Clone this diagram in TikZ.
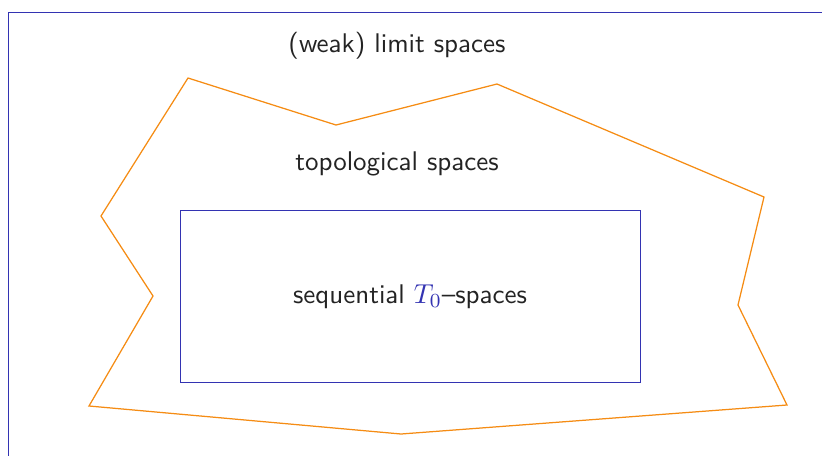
\documentclass[tikz,border=0pt]{standalone}
\usepackage{tikz}
\usepackage{xcolor}
\usepackage{amsmath}
\usetikzlibrary{positioning,calc}
\definecolor{frameBlue}{RGB}{51,51,178}
\definecolor{topoOrange}{RGB}{245,140,20}
\definecolor{textGray}{RGB}{35,35,35}
\tikzset{
  frame/.style={draw=frameBlue, line width=0.35pt},
  region/.style={draw=topoOrange, line width=0.5pt, line join=miter},
  label/.style={text=textGray, font=\sffamily\fontsize{10.8}{13}\selectfont, inner sep=0pt}
}
\newcommand{\Tnull}{\textcolor{frameBlue}{$T_0$}}

\begin{document}
\begin{tikzpicture}[x=0.4pt,y=-0.4pt]
  \useasboundingbox (0,0) rectangle (822,455);

  % limit spaces (runs off the page)
  \draw[frame] (8.5,470) |- (840,12.5);
  \node[label] (limit) at (397,46) {(weak) limit spaces};

  % topological spaces
  \draw[region] (188,78) -- (336,125) -- (497,84) -- (764,197) -- (738,305)
    -- (787,405) -- (401,434) -- (89,406) -- (153,296) -- (101,216) -- cycle;
  \node[label] (topo) at (397,164) {topological spaces};

  % sequential T0 spaces
  \draw[frame] (180,210) rectangle (640,382);
  \node[label] (seq) at (410,297) {sequential \Tnull--spaces};
\end{tikzpicture}
\end{document}
